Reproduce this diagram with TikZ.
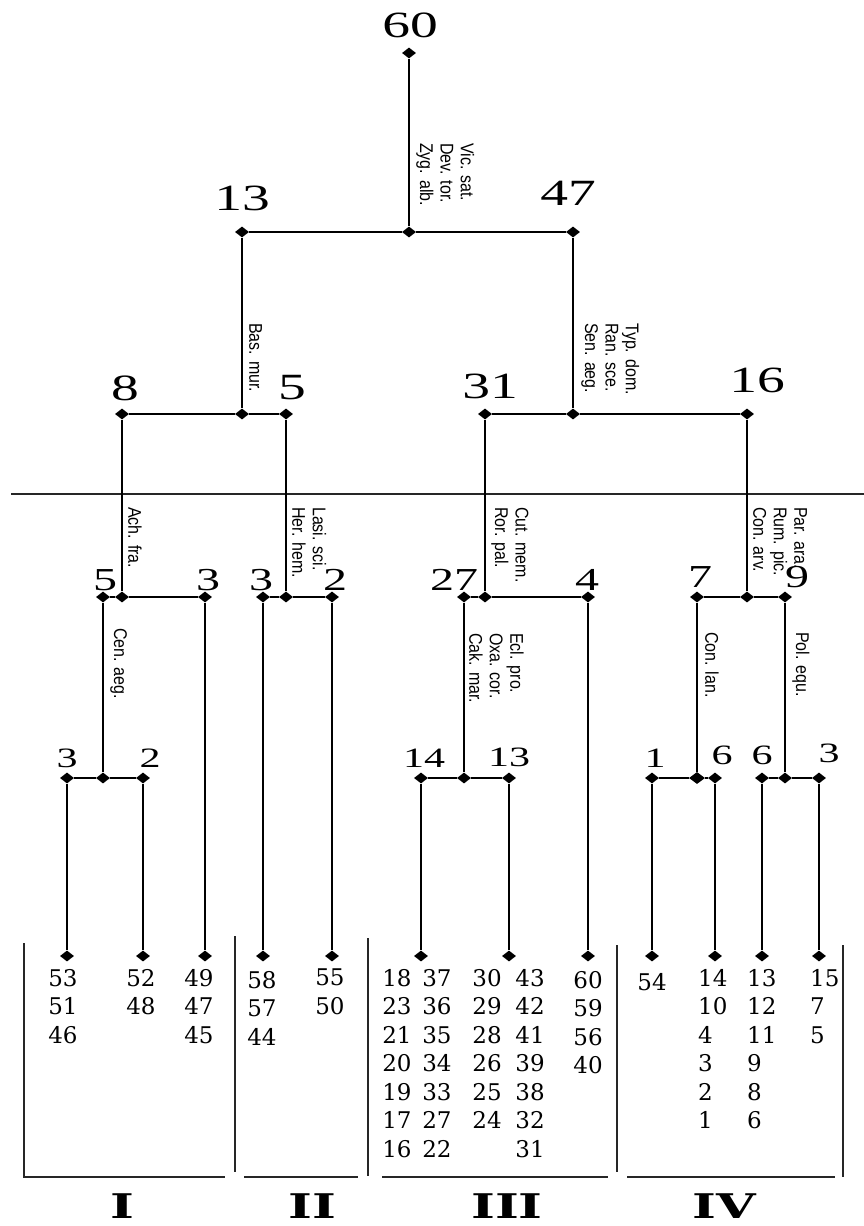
\documentclass[tikz,border=0pt]{standalone}
\usepackage{fontspec}
\usepackage{tikz}
\usetikzlibrary{shapes.geometric}
\newfontfamily\nodefont[FakeStretch=1.5]{Liberation Serif}
\newfontfamily\listfont{DejaVu Serif}
\newfontfamily\taxfont{Liberation Sans}
\newfontfamily\groupfont[FakeStretch=1.5]{DejaVu Serif}
\tikzset{
  jdot/.style={diamond, fill=black, inner sep=0pt, minimum width=14pt, minimum height=11pt},
  jbig/.style={jdot, minimum width=16pt, minimum height=12pt},
  branch/.style={line width=1.5pt, draw=black},
  grpline/.style={line width=1.4pt, draw=black!85},
  nlabA/.style={font=\nodefont\fontsize{37}{37}\selectfont, inner sep=0pt},
  nlabB/.style={font=\nodefont\fontsize{32}{32}\selectfont, inner sep=0pt},
  nlabC/.style={font=\nodefont\fontsize{28}{28}\selectfont, inner sep=0pt},
  taxa/.style={font=\taxfont\fontsize{16}{17.8}\selectfont, align=left, xscale=1.15, rotate=-90, anchor=south west, inner sep=0pt},
  nums/.style={font=\listfont\fontsize{23}{28.5}\selectfont, align=center, anchor=north, inner sep=0pt},
  numsL/.style={nums, align=left, anchor=north west},
  grp/.style={font=\groupfont\bfseries\fontsize{34}{34}\selectfont, inner sep=0pt}
}

\begin{document}
\begin{tikzpicture}[x=1pt, y=-1pt]
  \useasboundingbox (0,0) rectangle (864,1226);

  % --- root 60 ---
  \node[jdot] (r60) at (409,53) {};
  \node[nlabA] (t60) at (410,25) {60};
  \node[jdot] (j60) at (409,232) {};
  \node[jdot] (d13) at (242,232) {};
  \node[jdot] (d47) at (573,232) {};
  \node[nlabA] (t13) at (242,198) {13};
  \node[nlabA] (t47) at (568,193) {47};
  \draw[branch] (r60) -- (j60);
  \draw[branch] (d13) -- (j60) -- (d47);
  \node[taxa] (x60) at (416,143) {Vic. sat.\\Dev. tor.\\Zyg. alb.};

  % --- 13 ---
  \node[jdot] (j13) at (242,414) {};
  \node[jdot] (d8) at (122,414) {};
  \node[jdot] (d5) at (286,414) {};
  \node[nlabA] (t8) at (125,388) {8};
  \node[nlabA] (t5) at (292,388) {5};
  \draw[branch] (d13) -- (j13);
  \draw[branch] (d8) -- (j13) -- (d5);
  \node[taxa] (x13) at (249,323) {Bas. mur.};

  % --- 47 ---
  \node[jdot] (j47) at (573,414) {};
  \node[jdot] (d31) at (485,414) {};
  \node[jdot] (d16) at (747,414) {};
  \node[nlabA] (t31) at (490,386) {31};
  \node[nlabA] (t16) at (757,380) {16};
  \draw[branch] (d47) -- (j47);
  \draw[branch] (d31) -- (j47) -- (d16);
  \node[taxa] (x47) at (581,323) {Typ. dom.\\Ran. sce.\\Sen. aeg.};

  % separator
  \draw[grpline] (11,494) -- (864,494);

  % --- 8 ---
  \node[jdot] (j8) at (122,597) {};
  \node[jdot] (dA5) at (103,597) {};
  \node[jdot] (dA3) at (205,597) {};
  \node[nlabB] (tA5) at (105,580) {5};
  \node[nlabB] (tA3) at (208,580) {3};
  \draw[branch] (d8) -- (j8);
  \draw[branch] (dA5) -- (j8) -- (dA3);
  \node[taxa] (x8) at (128,507) {Ach. fra.};

  % --- 5 ---
  \node[jdot] (j5) at (286,597) {};
  \node[jdot] (dB3) at (263,597) {};
  \node[jdot] (dB2) at (332,597) {};
  \node[nlabB] (tB3) at (261,580) {3};
  \node[nlabB] (tB2) at (335,580) {2};
  \draw[branch] (d5) -- (j5);
  \draw[branch] (dB3) -- (j5) -- (dB2);
  \node[taxa] (x5) at (292,507) {Lasi. sci.\\Her. hem.};

  % --- 31 ---
  \node[jdot] (j31) at (485,597) {};
  \node[jdot] (dC27) at (464,597) {};
  \node[jdot] (dC4) at (588,597) {};
  \node[nlabB] (tC27) at (454,580) {27};
  \node[nlabB] (tC4) at (587,580) {4};
  \draw[branch] (d31) -- (j31);
  \draw[branch] (dC27) -- (j31) -- (dC4);
  \node[taxa] (x31) at (491,507) {Cut. mem.\\Ror. pal.};

  % --- 16 ---
  \node[jdot] (j16) at (747,597) {};
  \node[jdot] (dD7) at (697,597) {};
  \node[jdot] (dD9) at (785,597) {};
  \node[nlabB] (tD7) at (700,577) {7};
  \node[nlabB] (tD9) at (797,577) {9};
  \draw[branch] (d16) -- (j16);
  \draw[branch] (dD7) -- (j16) -- (dD9);
  \node[taxa] (x16) at (753,507) {Par. ara.\\Rum. pic.\\Con. arv.};

  % --- lowest splits ---
  \node[jdot] (jA5) at (103,778) {};
  \node[jdot] (dA53) at (67,778) {};
  \node[jdot] (dA52) at (143,778) {};
  \node[nlabC] (tA53) at (67,758) {3};
  \node[nlabC] (tA52) at (150,758) {2};
  \draw[branch] (dA5) -- (jA5);
  \draw[branch] (dA53) -- (jA5) -- (dA52);
  \node[taxa] (xA5) at (110,628) {Cen. aeg.};

  \node[jdot] (jC27) at (464,778) {};
  \node[jdot] (dC14) at (421,778) {};
  \node[jdot] (dC13) at (509,778) {};
  \node[nlabC] (tC14) at (424,758) {14};
  \node[nlabC] (tC13) at (509,757) {13};
  \draw[branch] (dC27) -- (jC27);
  \draw[branch] (dC14) -- (jC27) -- (dC13);
  \node[taxa] (xC27) at (469,633) {Ecl. pro.\\Oxa. cor.\\Cak. mar.};

  \node[jbig] (jD7) at (697,778) {};
  \node[jdot] (dD1) at (652,778) {};
  \node[jdot] (dD6) at (715,778) {};
  \node[nlabC] (tD1) at (655,758) {1};
  \node[nlabC] (tD6) at (722,755) {6};
  \draw[branch] (dD7) -- (jD7);
  \draw[branch] (dD1) -- (jD7) -- (dD6);
  \node[taxa] (xD7) at (705,632) {Con. lan.};

  \node[jdot] (jD9) at (785,778) {};
  \node[jdot] (dD6b) at (762,778) {};
  \node[jdot] (dD3) at (819,778) {};
  \node[nlabC] (tD6b) at (762,755) {6};
  \node[nlabC] (tD3) at (829,753) {3};
  \draw[branch] (dD9) -- (jD9);
  \draw[branch] (dD6b) -- (jD9) -- (dD3);
  \node[taxa] (xD9) at (792,632) {Pol. equ.};

  % --- leaf ends ---
  \node[jdot] (e1) at (67,956) {};   \draw[branch] (dA53) -- (e1);
  \node[jdot] (e2) at (143,956) {};  \draw[branch] (dA52) -- (e2);
  \node[jdot] (e3) at (205,956) {};  \draw[branch] (dA3) -- (e3);
  \node[jdot] (e4) at (263,956) {};  \draw[branch] (dB3) -- (e4);
  \node[jdot] (e5) at (332,956) {};  \draw[branch] (dB2) -- (e5);
  \node[jdot] (e6) at (421,956) {};  \draw[branch] (dC14) -- (e6);
  \node[jdot] (e7) at (509,956) {};  \draw[branch] (dC13) -- (e7);
  \node[jdot] (e8) at (588,956) {};  \draw[branch] (dC4) -- (e8);
  \node[jdot] (e9) at (652,956) {};  \draw[branch] (dD1) -- (e9);
  \node[jdot] (e10) at (715,956) {}; \draw[branch] (dD6) -- (e10);
  \node[jdot] (e11) at (762,956) {}; \draw[branch] (dD6b) -- (e11);
  \node[jdot] (e12) at (819,956) {}; \draw[branch] (dD3) -- (e12);

  % --- site lists ---
  \node[nums] (l53) at (63,969) {53\\51\\46};
  \node[nums] (l52) at (141,969) {52\\48};
  \node[nums] (l49) at (199,969) {49\\47\\45};
  \node[nums] (l58) at (262,971) {58\\57\\44};
  \node[nums] (l55) at (330,969) {55\\50};
  \node[nums] (l18) at (397,969) {18\\23\\21\\20\\19\\17\\16};
  \node[nums] (l37) at (437,969) {37\\36\\35\\34\\33\\27\\22};
  \node[nums] (l30) at (487,969) {30\\29\\28\\26\\25\\24};
  \node[nums] (l43) at (530,969) {43\\42\\41\\39\\38\\32\\31};
  \node[nums] (l60) at (588,971) {60\\59\\56\\40};
  \node[nums] (l54) at (652,973) {54};
  \node[numsL] (l14) at (698,969) {14\\10\\4\\3\\2\\1};
  \node[numsL] (l13) at (747,969) {13\\12\\11\\9\\8\\6};
  \node[numsL] (l15) at (810,969) {15\\7\\5};

  % --- group brackets ---
  \draw[grpline] (24,943) -- (24,1177) -- (225,1177);
  \draw[grpline] (235,936) -- (235,1172);
  \draw[grpline] (244,1177) -- (358,1177);
  \draw[grpline] (368,938) -- (368,1176);
  \draw[grpline] (382,1177) -- (608,1177);
  \draw[grpline] (617,945) -- (617,1172);
  \draw[grpline] (627,1177) -- (835,1177);
  \draw[grpline] (843,945) -- (843,1177);

  \node[grp] (g1) at (122,1206) {I};
  \node[grp] (g2) at (312,1206) {II};
  \node[grp] (g3) at (507,1206) {III};
  \node[grp] (g4) at (724,1206) {IV};
\end{tikzpicture}
\end{document}
